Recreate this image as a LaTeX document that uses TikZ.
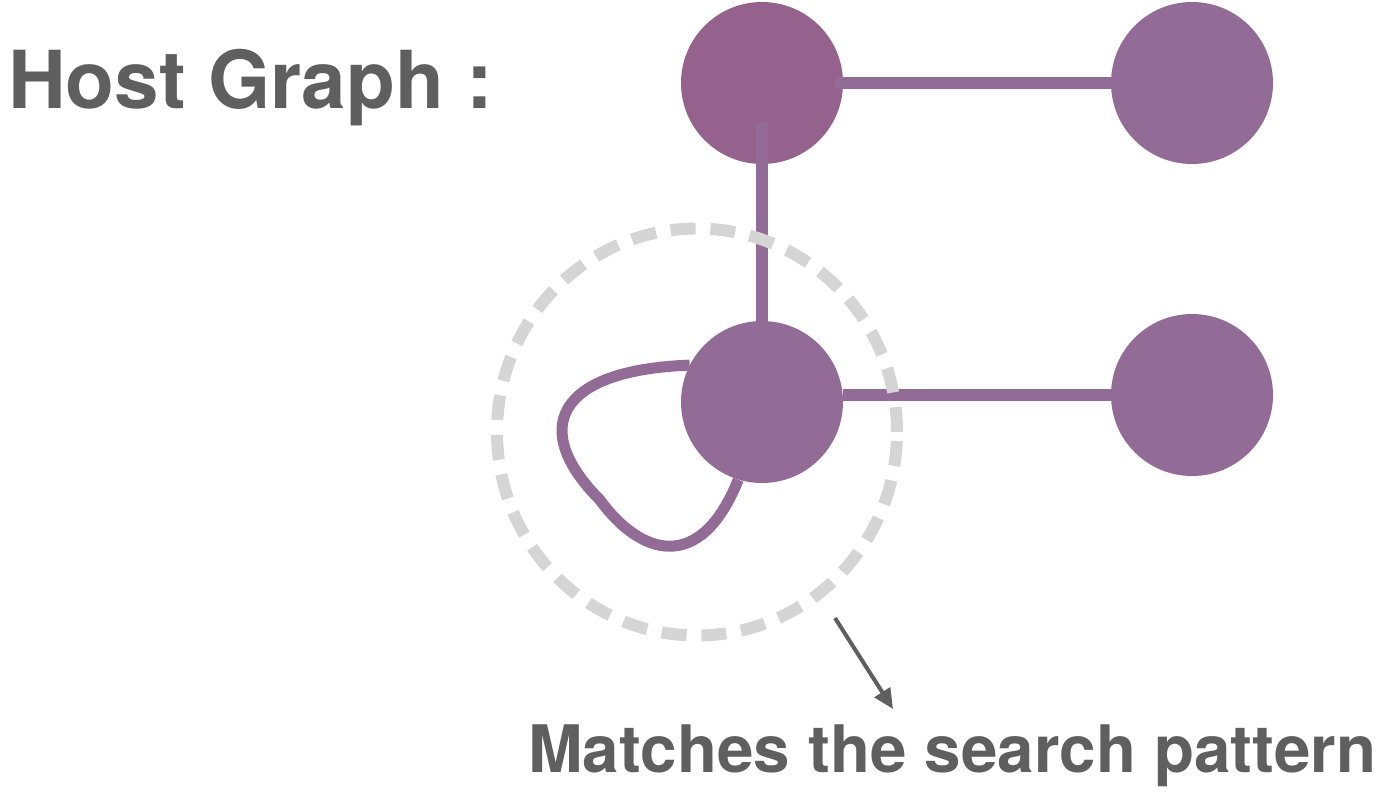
\documentclass[tikz,border=0pt]{standalone}
\usepackage{fontspec}
\setmainfont{TeX Gyre Heros}
\usepackage{tikz}
\usetikzlibrary{arrows.meta,shapes.geometric}
\definecolor{plumA}{RGB}{148,98,140}
\definecolor{plumB}{RGB}{146,108,150}
\definecolor{ringgray}{RGB}{213,213,213}
\definecolor{textgray}{RGB}{95,95,95}
\tikzset{
  vertex/.style={circle,fill=plumB,minimum size=162pt,inner sep=0pt},
  edge/.style={plumB,line width=12pt},
  loopedge/.style={plumB,line width=11pt},
  dashring/.style={ellipse,draw=ringgray,line width=12pt,dash pattern=on 25pt off 14.8pt,minimum width=400pt,minimum height=407pt,inner sep=0pt},
  pointer/.style={textgray,line width=4pt,-{Triangle[length=20pt,width=18pt]}},
  caption/.style={textgray,font=\bfseries,inner sep=0pt,anchor=base west}
}
\begin{document}
\begin{tikzpicture}[x=1pt,y=-1pt]
\useasboundingbox (0,0) rectangle (1384,796);
% host graph vertices
\node[vertex,fill=plumA] (hostA) at (762,83){};
\node[vertex] (hostB) at (1192,83){};
\node[vertex] (hostC) at (762,402){};
\node[vertex] (hostD) at (1192,395){};
% edges
\draw[edge] ([xshift=-8pt]hostA.east) -- (hostB.west);
\draw[edge] ([yshift=-39pt]hostA.center) -- (hostC.north);
\draw[edge] (hostC.east |- hostD.west) -- (hostD.west);
% self loop
\draw[loopedge] (hostC.153) .. controls (555,370) and (530,430) .. (600,500)
  .. controls (640,555) and (700,575) .. (hostC.253);
% matched region
\node[dashring] (ring) at (697,432){};
\coordinate (tail) at (835,618);
\coordinate (tip) at (893,709);
\draw[pointer] (tail) -- (tip);
% labels
\node[caption,font=\bfseries\fontsize{80}{82}\selectfont] (title) at (8,108){Host Graph :};
\node[caption,font=\bfseries\fontsize{65.5}{68}\selectfont] (match) at (528,772){Matches the search pattern};
\end{tikzpicture}
\end{document}
